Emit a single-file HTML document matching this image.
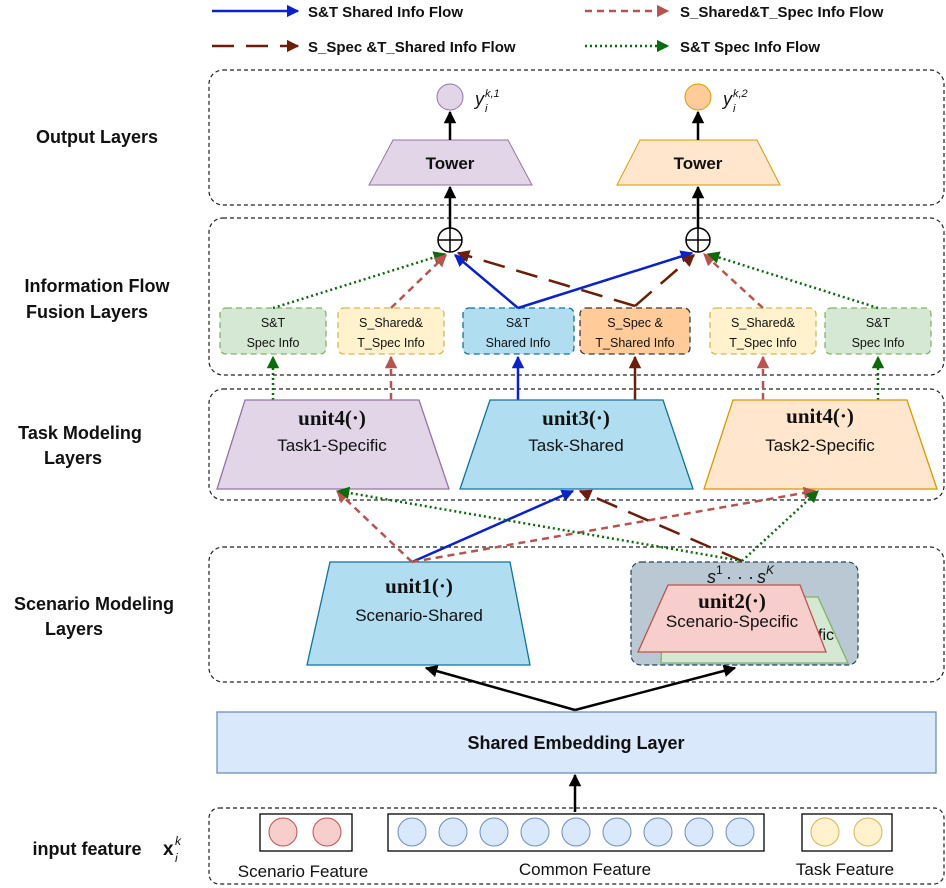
<!DOCTYPE html>
<html><head><meta charset="utf-8"><style>
body{margin:0;background:#fff}
svg{display:block}
text{font-family:"Liberation Sans",sans-serif;fill:#111}
.lab{font-size:18px;font-weight:bold;text-anchor:middle}
.u{font-family:"Liberation Serif",serif;font-size:21px;font-weight:bold;text-anchor:middle}
.t{font-size:17px;text-anchor:middle}
.s{font-size:12.5px;text-anchor:middle}
</style></head><body>
<svg width="946" height="888" viewBox="0 0 946 888" xmlns="http://www.w3.org/2000/svg">
<defs>
<marker id="ab" viewBox="0 0 10 10" refX="9" refY="5" markerWidth="5" markerHeight="5" orient="auto"><path d="M0,0L10,5L0,10z" fill="#0a22c8"/></marker>
<marker id="ar" viewBox="0 0 10 10" refX="9" refY="5" markerWidth="5" markerHeight="5" orient="auto"><path d="M0,0L10,5L0,10z" fill="#b85450"/></marker>
<marker id="an" viewBox="0 0 10 10" refX="9" refY="5" markerWidth="5" markerHeight="5" orient="auto"><path d="M0,0L10,5L0,10z" fill="#6b1e0a"/></marker>
<marker id="ag" viewBox="0 0 10 10" refX="9" refY="5" markerWidth="5" markerHeight="5" orient="auto"><path d="M0,0L10,5L0,10z" fill="#0b6a0b"/></marker>
<marker id="ak" viewBox="0 0 10 10" refX="9" refY="5" markerWidth="5" markerHeight="5" orient="auto"><path d="M0,0L10,5L0,10z" fill="#000"/></marker>
</defs>
<line x1="212" y1="11" x2="298" y2="11" stroke="#0a22c8" stroke-width="2.5" marker-end="url(#ab)"/>
<text x="308" y="17" font-size="15" font-weight="bold">S&amp;T Shared Info Flow</text>
<line x1="585" y1="11" x2="668" y2="11" stroke="#b85450" stroke-width="2.5" stroke-dasharray="7,5" marker-end="url(#ar)"/>
<text x="680" y="17" font-size="15" font-weight="bold">S_Shared&amp;T_Spec Info Flow</text>
<line x1="212" y1="46" x2="298" y2="46" stroke="#6b1e0a" stroke-width="2.5" stroke-dasharray="22,12" marker-end="url(#an)"/>
<text x="308" y="52" font-size="15" font-weight="bold">S_Spec &amp;T_Shared Info Flow</text>
<line x1="585" y1="46" x2="668" y2="46" stroke="#0b6a0b" stroke-width="2.5" stroke-dasharray="2,3" marker-end="url(#ag)"/>
<text x="680" y="52" font-size="15" font-weight="bold">S&amp;T Spec Info Flow</text>

<g fill="none" stroke="#222" stroke-width="1.2" stroke-dasharray="4,3">
<rect x="209" y="70" width="735" height="135" rx="14"/>
<rect x="209" y="218" width="735" height="157" rx="14"/>
<rect x="209" y="389" width="735" height="111" rx="14"/>
<rect x="209" y="547" width="735" height="135" rx="14"/>
<rect x="209" y="808" width="735" height="76" rx="10"/>
</g>
<text class="lab" x="97" y="143">Output Layers</text>
<text class="lab" x="97" y="292">Information Flow</text>
<text class="lab" x="87" y="318">Fusion Layers</text>
<text class="lab" x="80" y="439">Task Modeling</text>
<text class="lab" x="73" y="464">Layers</text>
<text class="lab" x="94" y="610">Scenario Modeling</text>
<text class="lab" x="74" y="635">Layers</text>
<text class="lab" x="87" y="855">input feature</text>
<text x="163" y="855" font-family="Liberation Serif" font-size="19" font-weight="bold">x</text>
<text x="175" y="845" font-family="Liberation Serif" font-size="12" font-style="italic">k</text>
<text x="175" y="862" font-family="Liberation Serif" font-size="12" font-style="italic">i</text>

<circle cx="450" cy="97" r="13" fill="#e1d5e7" stroke="#9673a6"/>
<circle cx="698" cy="97" r="13" fill="#ffcc99" stroke="#d79b00"/>
<text x="475" y="105" font-family="Liberation Serif" font-size="18" font-style="italic">y</text>
<text x="485" y="112" font-family="Liberation Serif" font-size="11" font-style="italic">i</text>
<text x="485" y="97" font-family="Liberation Serif" font-size="11" font-style="italic">k,1</text>
<text x="723" y="105" font-family="Liberation Serif" font-size="18" font-style="italic">y</text>
<text x="733" y="112" font-family="Liberation Serif" font-size="11" font-style="italic">i</text>
<text x="733" y="97" font-family="Liberation Serif" font-size="11" font-style="italic">k,2</text>
<polygon points="393,140 508,140 532,185 369,185" fill="#e1d5e7" stroke="#9673a6"/>
<polygon points="640,140 757,140 780,185 617,185" fill="#ffe6cc" stroke="#d79b00"/>
<text class="t" x="450" y="169" font-weight="bold">Tower</text>
<text class="t" x="698" y="169" font-weight="bold">Tower</text>
<line x1="450" y1="140" x2="450" y2="112" stroke="#000" stroke-width="2.5" marker-end="url(#ak)"/>
<line x1="698" y1="140" x2="698" y2="112" stroke="#000" stroke-width="2.5" marker-end="url(#ak)"/>
<line x1="450" y1="228" x2="450" y2="187" stroke="#000" stroke-width="2.5" marker-end="url(#ak)"/>
<line x1="698" y1="228" x2="698" y2="187" stroke="#000" stroke-width="2.5" marker-end="url(#ak)"/>
<g fill="#fff" stroke="#000" stroke-width="1.5">
<circle cx="450" cy="240" r="12"/><circle cx="698" cy="240" r="12"/>
</g>
<path d="M438,240H462M450,228V252M686,240H710M698,228V252" stroke="#000" stroke-width="1.5"/>

<g stroke-width="1.3" stroke-dasharray="6,4">
<rect x="220" y="308" width="106" height="46" rx="6" fill="#d5e8d4" stroke="#82b366"/>
<rect x="338" y="308" width="106" height="46" rx="6" fill="#fff2cc" stroke="#d6b656"/>
<rect x="463" y="308" width="111" height="46" rx="6" fill="#b1ddf0" stroke="#10739e"/>
<rect x="580" y="308" width="110" height="46" rx="6" fill="#ffcc99" stroke="#36393d"/>
<rect x="710" y="308" width="106" height="46" rx="6" fill="#fff2cc" stroke="#d6b656"/>
<rect x="825" y="308" width="106" height="46" rx="6" fill="#d5e8d4" stroke="#82b366"/>
</g>
<text class="s" x="273" y="327">S&amp;T</text><text class="s" x="273" y="347">Spec Info</text>
<text class="s" x="391" y="327">S_Shared&amp;</text><text class="s" x="391" y="347">T_Spec Info</text>
<text class="s" x="518" y="327">S&amp;T</text><text class="s" x="518" y="347">Shared Info</text>
<text class="s" x="635" y="327">S_Spec &amp;</text><text class="s" x="635" y="347">T_Shared Info</text>
<text class="s" x="763" y="327">S_Shared&amp;</text><text class="s" x="763" y="347">T_Spec Info</text>
<text class="s" x="878" y="327">S&amp;T</text><text class="s" x="878" y="347">Spec Info</text>

<line x1="273" y1="308" x2="445" y2="254" stroke="#0b6a0b" stroke-width="2.5" stroke-dasharray="2,3" marker-end="url(#ag)"/>
<line x1="391" y1="308" x2="446" y2="255" stroke="#b85450" stroke-width="2.5" stroke-dasharray="7,5" marker-end="url(#ar)"/>
<line x1="518" y1="308" x2="455" y2="255" stroke="#0a22c8" stroke-width="2.5" marker-end="url(#ab)"/>
<line x1="518" y1="308" x2="692" y2="253" stroke="#0a22c8" stroke-width="2.5" marker-end="url(#ab)"/>
<line x1="635" y1="306" x2="458" y2="253" stroke="#6b1e0a" stroke-width="2.5" stroke-dasharray="22,12" marker-end="url(#an)"/>
<line x1="635" y1="306" x2="694" y2="255" stroke="#6b1e0a" stroke-width="2.5" stroke-dasharray="22,12" marker-end="url(#an)"/>
<line x1="763" y1="308" x2="704" y2="254" stroke="#b85450" stroke-width="2.5" stroke-dasharray="7,5" marker-end="url(#ar)"/>
<line x1="878" y1="308" x2="708" y2="254" stroke="#0b6a0b" stroke-width="2.5" stroke-dasharray="2,3" marker-end="url(#ag)"/>

<line x1="273" y1="400" x2="273" y2="357" stroke="#0b6a0b" stroke-width="2.5" stroke-dasharray="2,3" marker-end="url(#ag)"/>
<line x1="391" y1="400" x2="391" y2="357" stroke="#b85450" stroke-width="2.5" stroke-dasharray="7,5" marker-end="url(#ar)"/>
<line x1="518" y1="400" x2="518" y2="357" stroke="#0a22c8" stroke-width="2.5" marker-end="url(#ab)"/>
<line x1="635" y1="400" x2="635" y2="357" stroke="#6b1e0a" stroke-width="2.5" marker-end="url(#an)"/>
<line x1="763" y1="400" x2="763" y2="357" stroke="#b85450" stroke-width="2.5" stroke-dasharray="7,5" marker-end="url(#ar)"/>
<line x1="878" y1="400" x2="878" y2="357" stroke="#0b6a0b" stroke-width="2.5" stroke-dasharray="2,3" marker-end="url(#ag)"/>

<polygon points="245,400 419,400 449,489 217,489" fill="#e1d5e7" stroke="#9673a6" stroke-width="1.3"/>
<polygon points="490,400 663,400 693,489 460,489" fill="#b1ddf0" stroke="#10739e" stroke-width="1.3"/>
<polygon points="733,400 907,400 937,489 704,489" fill="#ffe6cc" stroke="#d79b00" stroke-width="1.3"/>
<text class="u" x="332" y="425">unit4(·)</text><text class="t" x="332" y="451">Task1-Specific</text>
<text class="u" x="576" y="425">unit3(·)</text><text class="t" x="576" y="451">Task-Shared</text>
<text class="u" x="820" y="423">unit4(·)</text><text class="t" x="820" y="451">Task2-Specific</text>

<polygon points="330,562 510,562 530,665 307,665" fill="#b1ddf0" stroke="#10739e" stroke-width="1.3"/>
<text class="u" x="419" y="593">unit1(·)</text><text class="t" x="419" y="621" font-size="16">Scenario-Shared</text>
<rect x="631" y="562" width="227" height="103" rx="10" fill="#bac8d3" stroke="#23445d" stroke-width="1.2" stroke-dasharray="5,3"/>
<polygon points="664,597 818,597 848,663 661,663" fill="#d5e8d4" stroke="#82b366" stroke-width="1.3"/>
<text x="818" y="640" font-size="16">fic</text>
<polygon points="668,585 800,585 826,652 638,652" fill="#f8cecc" stroke="#b85450" stroke-width="1.3"/>
<text x="707" y="583" font-family="Liberation Serif" font-size="18" font-style="italic">s</text>
<text x="716" y="574" font-family="Liberation Serif" font-size="12">1</text>
<text x="726" y="583" font-family="Liberation Serif" font-size="18">· · ·</text>
<text x="757" y="583" font-family="Liberation Serif" font-size="18" font-style="italic">s</text>
<text x="766" y="574" font-family="Liberation Serif" font-size="12" font-style="italic">K</text>
<text class="u" x="732" y="608">unit2(·)</text><text class="t" x="732" y="627" font-size="16">Scenario-Specific</text>

<line x1="412" y1="562" x2="337" y2="491" stroke="#b85450" stroke-width="2.5" stroke-dasharray="7,5" marker-end="url(#ar)"/>
<line x1="412" y1="562" x2="573" y2="491" stroke="#0a22c8" stroke-width="2.5" marker-end="url(#ab)"/>
<line x1="412" y1="562" x2="815" y2="491" stroke="#b85450" stroke-width="2.5" stroke-dasharray="7,5" marker-end="url(#ar)"/>
<line x1="742" y1="561" x2="338" y2="491" stroke="#0b6a0b" stroke-width="2.5" stroke-dasharray="2,3" marker-end="url(#ag)"/>
<line x1="742" y1="561" x2="580" y2="491" stroke="#6b1e0a" stroke-width="2.5" stroke-dasharray="22,12" marker-end="url(#an)"/>
<line x1="742" y1="561" x2="818" y2="491" stroke="#0b6a0b" stroke-width="2.5" stroke-dasharray="2,3" marker-end="url(#ag)"/>

<rect x="217" y="712" width="719" height="61" fill="#dae8fc" stroke="#6c8ebf" stroke-width="1.3"/>
<text class="lab" x="576" y="749">Shared Embedding Layer</text>
<line x1="575" y1="710" x2="426" y2="668" stroke="#000" stroke-width="2.5" marker-end="url(#ak)"/>
<line x1="575" y1="710" x2="735" y2="668" stroke="#000" stroke-width="2.5" marker-end="url(#ak)"/>
<line x1="575" y1="812" x2="575" y2="775" stroke="#000" stroke-width="2.5" marker-end="url(#ak)"/>

<g fill="none" stroke="#000" stroke-width="1.3">
<rect x="260" y="814" width="92" height="37"/>
<rect x="388" y="814" width="376" height="37"/>
<rect x="802" y="814" width="90" height="37"/>
</g>
<g stroke-width="1">
<circle cx="283" cy="832" r="14" fill="#f8cecc" stroke="#b85450"/>
<circle cx="327" cy="832" r="14" fill="#f8cecc" stroke="#b85450"/>
<g fill="#dae8fc" stroke="#6c8ebf">
<circle cx="412" cy="832" r="14"/><circle cx="453" cy="832" r="14"/><circle cx="494" cy="832" r="14"/><circle cx="535" cy="832" r="14"/><circle cx="576" cy="832" r="14"/><circle cx="617" cy="832" r="14"/><circle cx="658" cy="832" r="14"/><circle cx="699" cy="832" r="14"/><circle cx="740" cy="832" r="14"/>
</g>
<circle cx="825" cy="832" r="14" fill="#fff2cc" stroke="#d6b656"/>
<circle cx="868" cy="832" r="14" fill="#fff2cc" stroke="#d6b656"/>
</g>
<text class="t" x="303" y="877" font-size="16">Scenario Feature</text>
<text class="t" x="585" y="875" font-size="16">Common Feature</text>
<text class="t" x="845" y="875" font-size="16">Task Feature</text>
</svg>
</body></html>
